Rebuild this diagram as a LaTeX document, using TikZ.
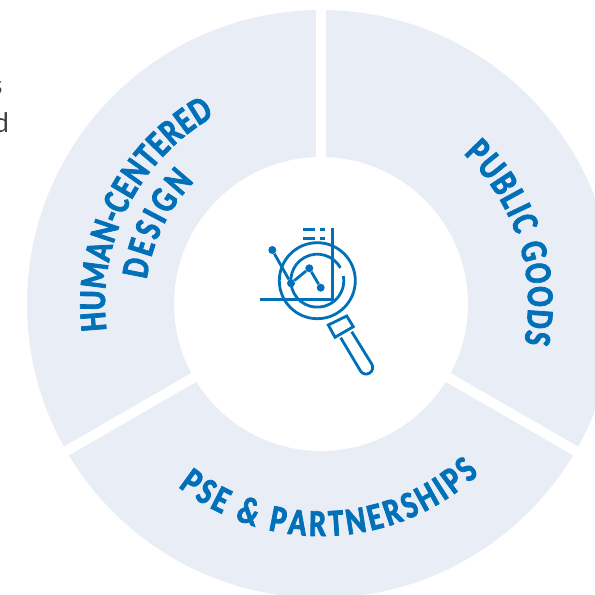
\documentclass[tikz,border=0pt]{standalone}
\usepackage{fontspec}
\usetikzlibrary{calc,decorations.text}
\setmainfont{Lato}
\newfontfamily\bandfont[FakeStretch=0.8,FakeBold=2]{Carlito}
\definecolor{bandfill}{HTML}{E9EDF6}
\definecolor{bandblue}{HTML}{0070B8}
\definecolor{strayink}{HTML}{404040}
\tikzset{
	gap/.style={white, line width=10pt},
	icon/.style={bandblue, line width=2.8pt},
	dot/.style={circle, fill=bandblue, inner sep=0pt, minimum size=8pt},
	bandtext/.style={decorate, decoration={text along path, text align={fit to path}, text={|\fontsize{38}{38}\bandfont\bfseries\color{bandblue}|#1}}}
}
\begin{document}
\begin{tikzpicture}[x=1pt, y=1pt]
	\useasboundingbox (0,0) rectangle (595,595);
	
	\coordinate (c) at (321,291);
	
	% ring and the three gaps
	\fill [bandfill, even odd rule] (c) circle (294) (c) circle (147);
	\draw [gap] (c)--++(90:300);
	\draw [gap] (c)--++(-30:300);
	\draw [gap] (c)--++(210:300);
	
	% labels on the ring
	\path [bandtext={HUMAN-CENTERED}] ($(c)+(187:216)$) arc (187:119.5:216);
	\path [bandtext={DESIGN}] ($(c)+(172:176)$) arc (172:136:176);
	\path [bandtext={PUBLIC GOODS}] ($(c)+(46.5:207)$) arc (46.5:-11:207);
	\path [bandtext={PSE {\&} PARTNERSHIPS}] ($(c)+(232:232)$) arc (232:313:232);
	
	% cut off text on the left
	\node [strayink, anchor=base east, font=\fontsize{27}{27}\selectfont] (s) at (6,500) {s};
	\node [strayink, anchor=base east, font=\fontsize{27}{27}\selectfont] (d) at (12.5,462) {d};
	
	% chart
	\draw [icon] (260,295.7)--(332.7,295.7)--(332.7,367);
	\draw [icon] (303.3,365.7)--(315,365.7);
	\draw [icon] (320,365.7)--(325,365.7);
	\draw [icon] (303.3,356.7)--(315,356.7);
	\draw [icon] (320,356.7)--(325,356.7);
	\node [dot] (p1) at (272.3,345) {};
	\node [dot] (p2) at (291,311.7) {};
	\node [dot] (p3) at (309.3,326.7) {};
	\node [dot] (p4) at (320.7,307.3) {};
	\draw [icon] (p1)--(p2)--(p3)--(p4);
	
	% magnifier
	\coordinate (m) at (317.3,314.3);
	\draw [icon] (m) circle (38);
	\draw [icon] ($(m)+(29:26.5)$) arc (29:370:26.5);
	\draw [icon] (346.7,279)--(353.3,268.3)--(335,257.7)--(328.3,270)--cycle;
	\draw [icon] (351.7,263.3)--(371.7,231) arc (32:-148:6.6) -- (340.7,257.3);
\end{tikzpicture}
\end{document}
